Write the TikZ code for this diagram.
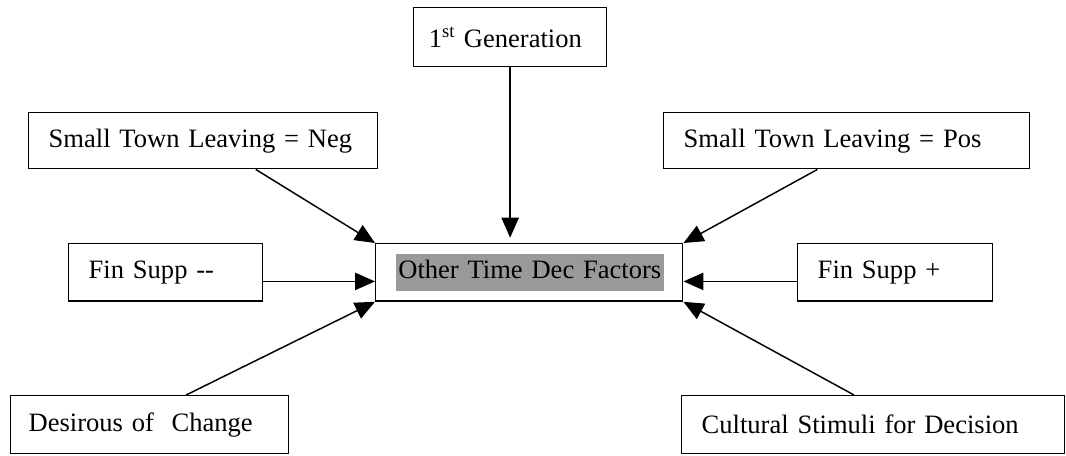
\documentclass[tikz,border=0pt]{standalone}
\usepackage{fontspec}
\setmainfont{Liberation Serif}
\usetikzlibrary{arrows.meta, calc}
\definecolor{hlGray}{gray}{0.6}

\begin{document}
\begin{tikzpicture}[x=0.75pt, y=-0.75pt,
  box/.style={draw, line width=1.1pt, anchor=north west, inner xsep=15pt, inner ysep=0pt,
    align=left, minimum height=43pt, font=\fontsize{19.9pt}{24pt}\selectfont},
  feed/.style={line width=1.1pt, -{Triangle[length=15pt, width=13pt]}}]
  \useasboundingbox (0,0) rectangle (1066,455);
  % factor boxes
  \node[box, text width=122pt, inner xsep=11.3pt, minimum height=44.25pt] (gen) at (413,7) {1\textsuperscript{st} Generation};
  \node[box, text width=231.75pt, minimum height=42pt] (neg) at (28,112) {Small Town Leaving = Neg};
  \node[box, text width=244.5pt, minimum height=42pt] (pos) at (663,112) {Small Town Leaving = Pos};
  \node[box, text width=115.5pt] (finneg) at (68,243) {Fin Supp -{}-};
  \node[box, text width=200.25pt] (other) at (375,243)
    {\setlength{\fboxsep}{2pt}\colorbox{hlGray}{\strut Other Time Dec Factors}};
  \node[box, text width=116.25pt] (finpos) at (797,243) {Fin Supp +};
  \node[box, text width=181.5pt, minimum height=43.5pt, inner xsep=13.5pt] (desire) at (10,395) {Desirous of\ \ Change};
  \node[box, text width=257.25pt, minimum height=43.5pt] (cultural) at (681,395) {Cultural Stimuli for Decision};
  % arrows into the centre box
  \draw[feed, shorten >=4pt] (gen.south) -- (gen.south |- other.north);
  \draw[feed] ($(neg.south west)!0.65!(neg.south east)$) -- (other.north west);
  \draw[feed] ($(pos.south west)!0.42!(pos.south east)$) -- (other.north east);
  \draw[feed] ($(finneg.east)+(0,9)$) -- ($(other.west)+(0,9)$);
  \draw[feed] ($(finpos.west)+(0,9)$) -- ($(other.east)+(0,9)$);
  \draw[feed] ($(desire.north west)!0.63!(desire.north east)$) -- (other.south west);
  \draw[feed] ($(cultural.north west)!0.45!(cultural.north east)$) -- (other.south east);
\end{tikzpicture}
\end{document}
